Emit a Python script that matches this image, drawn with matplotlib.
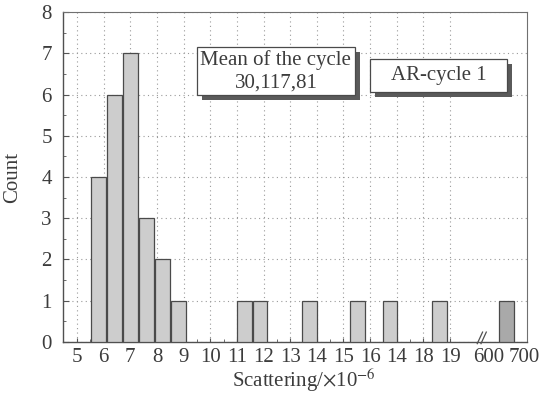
import matplotlib.pyplot as plt
from matplotlib.patches import Rectangle
from matplotlib.transforms import blended_transform_factory

# histogram counts and where each bar sits on the broken scattering axis
bin_pos = [5.80, 6.40, 7.00, 7.61, 8.21, 8.81, 11.28, 11.87, 13.72, 15.52, 16.75, 18.61, 21.13]
counts = [4, 6, 7, 3, 2, 1, 1, 1, 1, 1, 1, 1, 1]

tick_pos = [5, 6, 7, 8, 9, 10, 11, 12, 13, 14, 15, 16, 17, 18, 19, 20.45, 21.78]
tick_labels = ['5', '6', '7', '8', '9', '10', '11', '12', '13', '14',
               '15', '16', '14', '18', '19', '600', '700']

plt.rcParams['font.family'] = ['Liberation Serif', 'DejaVu Serif']
plt.rcParams['mathtext.fontset'] = 'stix'
txt = '#3c3c3c'

fig = plt.figure(figsize=(5.41, 3.94), dpi=100)
ax = fig.add_axes([0.1165, 0.132, 0.8575, 0.8375])

bar_colors = ['#cdcdcd'] * (len(counts) - 1) + ['#a9a9a9']
ax.bar(bin_pos, counts, width=0.55, color=bar_colors, edgecolor='#4a4a4a', linewidth=0.9, zorder=3)

ax.set_xlim(4.475, 21.885)
ax.set_ylim(0, 8)

ax.set_xticks(tick_pos, tick_labels)
ax.set_xticks([i + 0.5 for i in range(5, 19)], minor=True)
ax.tick_params(axis='x', which='major', direction='in', length=3, pad=4, labelsize=15,
               labelcolor=txt, color='#555555')
ax.tick_params(axis='x', which='minor', direction='in', length=2, color='#555555')

ax.set_yticks(range(0, 9))
ax.set_yticks([i + 0.5 for i in range(8)], minor=True)
ax.tick_params(axis='y', which='major', direction='in', length=4, pad=8, labelsize=15,
               labelcolor=txt, color='#555555')
ax.tick_params(axis='y', which='minor', direction='in', length=2, color='#555555')

ax.grid(True, which='major', linestyle=(0, (1, 3)), color='#9a9a9a', linewidth=0.8, zorder=0)
# no vertical grid past the break
for t in ax.xaxis.get_major_ticks()[-2:]:
    t.gridline.set_visible(False)
    t.tick1line.set_visible(False)

for side in ['left', 'bottom']:
    ax.spines[side].set_color('#505050')
    ax.spines[side].set_linewidth(1.0)
for side in ['top', 'right']:
    ax.spines[side].set_color('#707070')
    ax.spines[side].set_linewidth(0.8)
    ax.spines[side].set_linestyle((0, (4, 1)))

ax.set_ylabel('Count', fontsize=15, color=txt)
ax.yaxis.set_label_coords(-0.088, 0.5)
ax.set_xlabel(r'Scattering/$\times$10$^{-6}$', fontsize=15, color=txt)
ax.xaxis.set_label_coords(0.52, -0.075)

# axis break marks between 19 and 600
tr = blended_transform_factory(ax.transData, ax.transAxes)
for dx in (0.0, 0.14):
    ax.plot([20.02 + dx, 20.22 + dx], [-0.005, 0.03], color='#505050', lw=0.9,
            transform=tr, clip_on=False, zorder=5)


def shadow_box(x0, y0, x1, y1, lines, size):
    sx, sy = 0.18, 0.12
    ax.add_patch(Rectangle((x0 + sx, y0 - sy), x1 - x0, y1 - y0, facecolor='#5a5a5a',
                           edgecolor='none', zorder=6))
    ax.add_patch(Rectangle((x0, y0), x1 - x0, y1 - y0, facecolor='white',
                           edgecolor='#4a4a4a', linewidth=0.9, zorder=7))
    ax.text((x0 + x1) / 2, (y0 + y1) / 2, lines, ha='center', va='center',
            fontsize=size, color=txt, linespacing=1.2, zorder=8)


shadow_box(9.50, 5.98, 15.43, 7.15, 'Mean of the cycle\n30,117,81', 15)
shadow_box(15.99, 6.05, 21.13, 6.87, 'AR-cycle 1', 15)

plt.savefig('out.png', dpi=100)
